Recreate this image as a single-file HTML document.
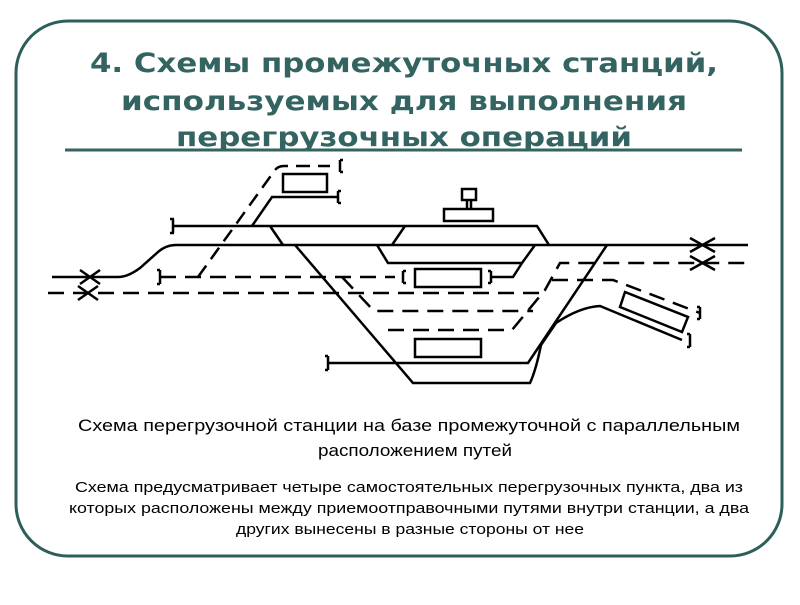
<!DOCTYPE html>
<html><head><meta charset="utf-8"><style>html,body{margin:0;padding:0;background:#fff}</style></head>
<body>
<svg width="800" height="600" viewBox="0 0 800 600" xmlns="http://www.w3.org/2000/svg">
<rect x="16" y="21" width="766" height="535" rx="52" ry="52" fill="#fff" stroke="#2e5e5a" stroke-width="3"/>
<g font-family="DejaVu Sans, Liberation Sans, sans-serif" font-weight="bold" font-size="27" fill="#336461" text-anchor="middle">
<text x="404" y="72" textLength="628" lengthAdjust="spacingAndGlyphs">4. Схемы промежуточных станций,</text>
<text x="404" y="110" textLength="566" lengthAdjust="spacingAndGlyphs">используемых для выполнения</text>
<text x="404" y="146" textLength="456" lengthAdjust="spacingAndGlyphs">перегрузочных операций</text>
</g>
<line x1="65" y1="150" x2="742" y2="150" stroke="#336461" stroke-width="3"/>
<g stroke="#000" stroke-width="2.5" fill="none">
<path d="M52,277 H118 Q128,277 140,268 L158,252 Q166,245 176,245 H748"/>
<path d="M80,270 L100,284 M80,284 L100,270 M78,286 L98,300 M78,300 L98,286"/>
<path d="M690,238 L715,252 M690,252 L715,238 M690,256 L715,270 M690,270 L715,256"/>
<path d="M173,226 H537 L549,245 M270,226 L283,245 M405,226 L392,245"/>
<path d="M173,219 v14 M170,219 h4 M170,233 h4"/>
<path d="M252,226 L272,197 H338 M338,191 v12 M338,191 h3 M338,203 h3"/>
<rect x="283" y="174" width="44" height="18"/>
<path d="M198,277 L275,170 Q278,166 284,166 H330" stroke-dasharray="14,8"/>
<path d="M340,160 v12 M340,160 h3 M340,172 h3"/>
<path d="M377,245 L388,263 H522 L535,245 M491,277 H513 L522,263"/>
<path d="M491,271 v12 M491,271 h-3 M491,283 h-3"/>
<rect x="415" y="269" width="66" height="18"/>
<rect x="444" y="209" width="49" height="12"/>
<rect x="462" y="189" width="14" height="11"/>
<path d="M467,200 v9 M471,200 v9"/>
<path d="M295,245 L413,383 H530 Q536,370 541,345 L556,323 Q580,307 600,306 L682,340 M607,245 L528,363 H328"/>
<path d="M328,356 v14 M328,356 h-3 M328,370 h-3"/>
<rect x="415" y="339" width="66" height="18"/>
<path d="M690,334 v13 M690,334 h-3 M690,347 h-3"/>
<polygon points="625,292 688,317 682,332 620,307"/>
<g stroke-dasharray="16,9">
<path d="M160,277 H395"/>
<path d="M48,293 H545"/>
<path d="M342,277 L374,311 H533"/>
<path d="M388,330 H512 L545,290 L560,263 H748"/>
<path d="M552,280 H613 L700,313"/>
</g>
<path d="M160,270 v14 M160,270 h-3 M160,284 h-3"/>
<path d="M403,271 v12 M403,271 h3 M403,283 h3"/>
<path d="M700,307 v12 M700,307 h-3 M700,319 h-3"/>
</g>
<g font-family="Liberation Sans, sans-serif" fill="#000" text-anchor="middle">
<text x="409" y="431" font-size="17" textLength="662" lengthAdjust="spacingAndGlyphs">Схема перегрузочной станции на базе промежуточной с параллельным</text>
<text x="415" y="456" font-size="17" textLength="194" lengthAdjust="spacingAndGlyphs">расположением путей</text>
<text x="409" y="492" font-size="15" textLength="668" lengthAdjust="spacingAndGlyphs">Схема предусматривает четыре самостоятельных перегрузочных пункта, два из</text>
<text x="409" y="513" font-size="15" textLength="680" lengthAdjust="spacingAndGlyphs">которых расположены между приемоотправочными путями внутри станции, а два</text>
<text x="410" y="534" font-size="15" textLength="348" lengthAdjust="spacingAndGlyphs">других вынесены в разные стороны от нее</text>
</g>
</svg>
</body></html>
